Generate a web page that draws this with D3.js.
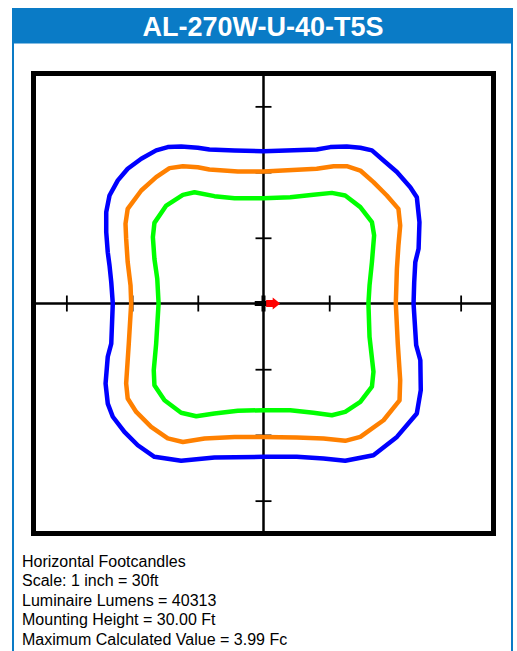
<!DOCTYPE html>
<html><head><meta charset="utf-8">
<script src="https://cdn.jsdelivr.net/npm/d3@7"></script>
<style>body{margin:0;background:#fff}svg{display:block}</style>
</head><body>
<script>
const title = "AL-270W-U-40-T5S";
const infoLines = ["Horizontal Footcandles","Scale: 1 inch = 30ft","Luminaire Lumens = 40313","Mounting Height = 30.00 Ft","Maximum Calculated Value = 3.99 Fc"];
const tickValues = [-90,-60,-30,30,60,90];
// contour points in feet [x, y]
const blueContour = [[0,69.5],[24.3,70.3],[30.5,71.4],[38,71.7],[44.2,71.1],[49.5,69.9],[54.8,65.3],[60.9,60],[67,53.1],[70,48.5],[71.2,37.1],[70.8,25],[69.3,18.9],[68.8,9.7],[68.5,0],
 [69.7,-19],[71.6,-25.9],[71.8,-39.6],[70,-50.2],[60.9,-60.9],[50.2,-69.3],[37.3,-71.8],[27.4,-70.8],[15.2,-70],[0,-70],
 [-22.4,-70.3],[-37.6,-71.8],[-49.8,-70],[-57.4,-64.7],[-63.5,-58.6],[-68.8,-51.7],[-71.1,-45.7],[-72.1,-36.5],[-71.1,-24.3],[-69.5,-18.3],[-68.8,0],
 [-69.5,9.7],[-70.3,17.4],[-71.1,23.4],[-71.8,32.6],[-71.8,41.7],[-70.3,49.3],[-66.5,56.2],[-62,61.5],[-55.8,66.1],[-49,69.9],[-43.7,71.4],[-37.6,71.7],[-30,71.1],[-24.7,70.3],[-13.2,69.9]];
const orangeContour = [[0,60.3],[24.3,61.5],[32,62.7],[38,62.7],[44.2,60.7],[50.2,55.4],[56.3,49.3],[61.6,43.2],[62.4,35.6],[61.6,26.5],[60.9,15.8],[60.4,0],
 [61.3,-18.3],[62.4,-35],[62.1,-44.2],[54.8,-53.3],[44.2,-60.9],[37.3,-62.7],[27.4,-61.6],[15.2,-61.2],[0,-60.9],
 [-13.2,-60.9],[-26.9,-61.6],[-36.8,-63.2],[-43.7,-61.6],[-51.3,-56.3],[-58.1,-49.5],[-62,-43.4],[-62.7,-36.5],[-61.5,-18.3],[-60.4,0],
 [-60.7,8.2],[-62,18.9],[-62.7,29.5],[-63,36.4],[-62,43.2],[-55.8,51.6],[-49,57.7],[-42.9,61.8],[-36.8,62.7],[-30,62.2],[-24.7,61.2],[-11.7,60.3]];
const greenContour = [[0,48.1],[12.2,48.5],[22.8,49.6],[31.2,50.5],[37.3,49.3],[44.2,44],[49.5,37.1],[50.5,31.1],[49.5,18.9],[48.4,8.2],[47.9,0],
 [48.4,-15.2],[50.2,-31.2],[49.5,-38],[44.2,-44.9],[37.3,-49.5],[31.2,-51],[22.8,-49.9],[12.2,-48.7],[0,-48.7],
 [-11.7,-49],[-22.4,-50.2],[-30.7,-51.5],[-37.6,-49.9],[-45.2,-44.2],[-49.8,-37.3],[-50.1,-30.5],[-49,-18.3],[-47.9,0],
 [-48.5,11.3],[-49.8,20.4],[-50.5,30.3],[-49.8,36.8],[-44.4,44.7],[-36.8,49.6],[-31.5,50.8],[-22.4,49],[-13.2,48.1]];
const contours = [
  {name:"blue", color:"#0000ff", pts: blueContour},
  {name:"orange", color:"#ff8000", pts: orangeContour},
  {name:"green", color:"#00ff00", pts: greenContour}
];

const W = 517, H = 651;
const svg = d3.select("body").append("svg").attr("width", W).attr("height", H);

// header and side borders
svg.append("rect").attr("x",12).attr("y",8).attr("width",501).attr("height",35.5).attr("fill","#0a7bc6");
svg.append("line").attr("x1",13).attr("x2",13).attr("y1",43).attr("y2",H).attr("stroke","#0a7bc6").attr("stroke-width",2);
svg.append("line").attr("x1",512).attr("x2",512).attr("y1",43).attr("y2",H).attr("stroke","#0a7bc6").attr("stroke-width",2);
svg.append("text").attr("x",263).attr("y",36).attr("text-anchor","middle")
  .attr("font-family","Liberation Sans, Arial, sans-serif").attr("font-weight","bold").attr("font-size",27)
  .attr("fill","#fff").text(title);

const x = d3.scaleLinear().domain([-105,105]).range([33.5,493.5]);
const y = d3.scaleLinear().domain([-105,105]).range([533.5,73.5]);

// axes through origin
svg.append("line").attr("x1",x(-105)).attr("x2",x(105)).attr("y1",y(0)).attr("y2",y(0)).attr("stroke","#000").attr("stroke-width",2.5);
svg.append("line").attr("x1",x(0)).attr("x2",x(0)).attr("y1",y(-105)).attr("y2",y(105)).attr("stroke","#000").attr("stroke-width",2.5);
const xAxis = d3.axisBottom(x).tickValues(tickValues).tickSize(16).tickFormat("");
const yAxis = d3.axisLeft(y).tickValues(tickValues).tickSize(16).tickFormat("");
const gx = svg.append("g").attr("transform",`translate(0,${y(0)-8})`).call(xAxis);
const gy = svg.append("g").attr("transform",`translate(${x(0)+8},0)`).call(yAxis);
[gx,gy].forEach(g=>{g.select(".domain").remove(); g.selectAll(".tick line").attr("stroke","#000").attr("stroke-width",1.8);});

// contours
const line = d3.line().x(d=>x(d[0])).y(d=>y(d[1])).curve(d3.curveLinearClosed);
svg.selectAll("path.contour").data(contours).enter().append("path")
  .attr("class","contour").attr("d",d=>line(d.pts)).attr("fill","none")
  .attr("stroke",d=>d.color).attr("stroke-width",4.5).attr("stroke-linejoin","round");

// luminaire symbol
svg.append("line").attr("x1",x(0)).attr("x2",x(0)).attr("y1",y(0)-8).attr("y2",y(0)+8).attr("stroke","#000").attr("stroke-width",4);
svg.append("line").attr("x1",x(-4)).attr("x2",x(2)).attr("y1",y(0)).attr("y2",y(0)).attr("stroke","#000").attr("stroke-width",5);
svg.append("line").attr("x1",x(1.2)).attr("x2",x(5)).attr("y1",y(0)).attr("y2",y(0)).attr("stroke","#ff0000").attr("stroke-width",7);
svg.append("path").attr("d",`M${x(4.2)},${y(0)-6} L${x(7.6)},${y(0)} L${x(4.2)},${y(0)+6} Z`).attr("fill","#ff0000");

// frame
svg.append("rect").attr("x",x(-105)).attr("y",y(105)).attr("width",x(105)-x(-105)).attr("height",y(-105)-y(105))
  .attr("fill","none").attr("stroke","#000").attr("stroke-width",5);

// info text
svg.append("g").selectAll("text").data(infoLines).enter().append("text")
  .attr("x",22).attr("y",(d,i)=>567+i*19.4)
  .attr("font-family","Liberation Sans, Arial, sans-serif").attr("font-size",16).attr("fill","#000").text(d=>d);
</script>
</body></html>
